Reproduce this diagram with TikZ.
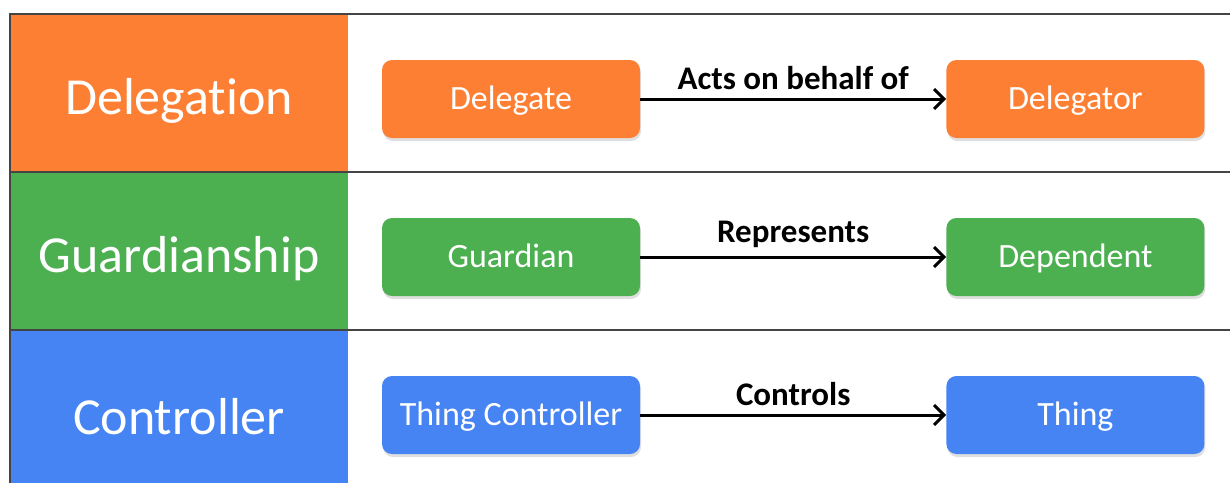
\documentclass[tikz,border=0pt]{standalone}
\usepackage{fontspec}
\setmainfont{Carlito}[Ligatures = NoCommon]
\usetikzlibrary{positioning,shadows,arrows.meta}

\definecolor{delorange}{HTML}{FD7F34}
\definecolor{guagreen}{HTML}{4CAF50}
\definecolor{conblue}{HTML}{4684F4}
\definecolor{framegray}{HTML}{444444}

\tikzset{
  rolebox/.style = {shape = rectangle, rounded corners = 10pt, minimum width = 258pt, minimum height = 78pt,
    text = white, font = \fontsize{34}{36}\selectfont, text height = 24pt, text depth = 4pt,
    drop shadow = {shadow xshift = 1pt, shadow yshift = -3pt, opacity = 0.25}},
  rowlabel/.style = {text = white, font = \fontsize{52}{56}\selectfont},
  rel/.style = {-{Straight Barb[length = 10pt, width = 20pt]}, line width = 3pt},
  rellabel/.style = {font = \bfseries\fontsize{33}{36}\selectfont, above = 4pt},
  frameline/.style = {line width = 1.4pt, framegray}
}

\begin{document}
\begin{tikzpicture}[x = 1pt, y = -1pt]
\useasboundingbox (0,0) rectangle (1230,483);
\fill[delorange] (10,14) rectangle (348,172);
\fill[guagreen] (10,172) rectangle (348,330);
\fill[conblue] (10,330) rectangle (348,483);
\draw[frameline] (10,483) -- (10,14) -- (1230,14);
\draw[frameline] (10,172) -- (1230,172);
\draw[frameline] (10,330) -- (1230,330);

\node[rowlabel] (deleg) at (179,101) {Delegation};
\node[rowlabel] (guard) at (179,259) {Guardianship};
\node[rowlabel] (contr) at (179,417) {Controller};

\node[rolebox, fill = delorange] (delegate) at (511,99) {Delegate};
\node[rolebox, fill = delorange, right = 306pt of delegate] (delegator) {Delegator};
\node[rolebox, fill = guagreen] (guardian) at (511,257) {Guardian};
\node[rolebox, fill = guagreen, right = 306pt of guardian] (dependent) {Dependent};
\node[rolebox, fill = conblue] (tcontroller) at (511,415) {Thing Controller};
\node[rolebox, fill = conblue, right = 306pt of tcontroller] (thing) {Thing};

\draw[rel] (delegate) -- (delegator) node[rellabel, midway] (actslbl) {Acts on behalf of};
\draw[rel] (guardian) -- (dependent) node[rellabel, midway] (replbl) {Represents};
\draw[rel] (tcontroller) -- (thing) node[rellabel, midway] (ctrllbl) {Controls};
\end{tikzpicture}
\end{document}
